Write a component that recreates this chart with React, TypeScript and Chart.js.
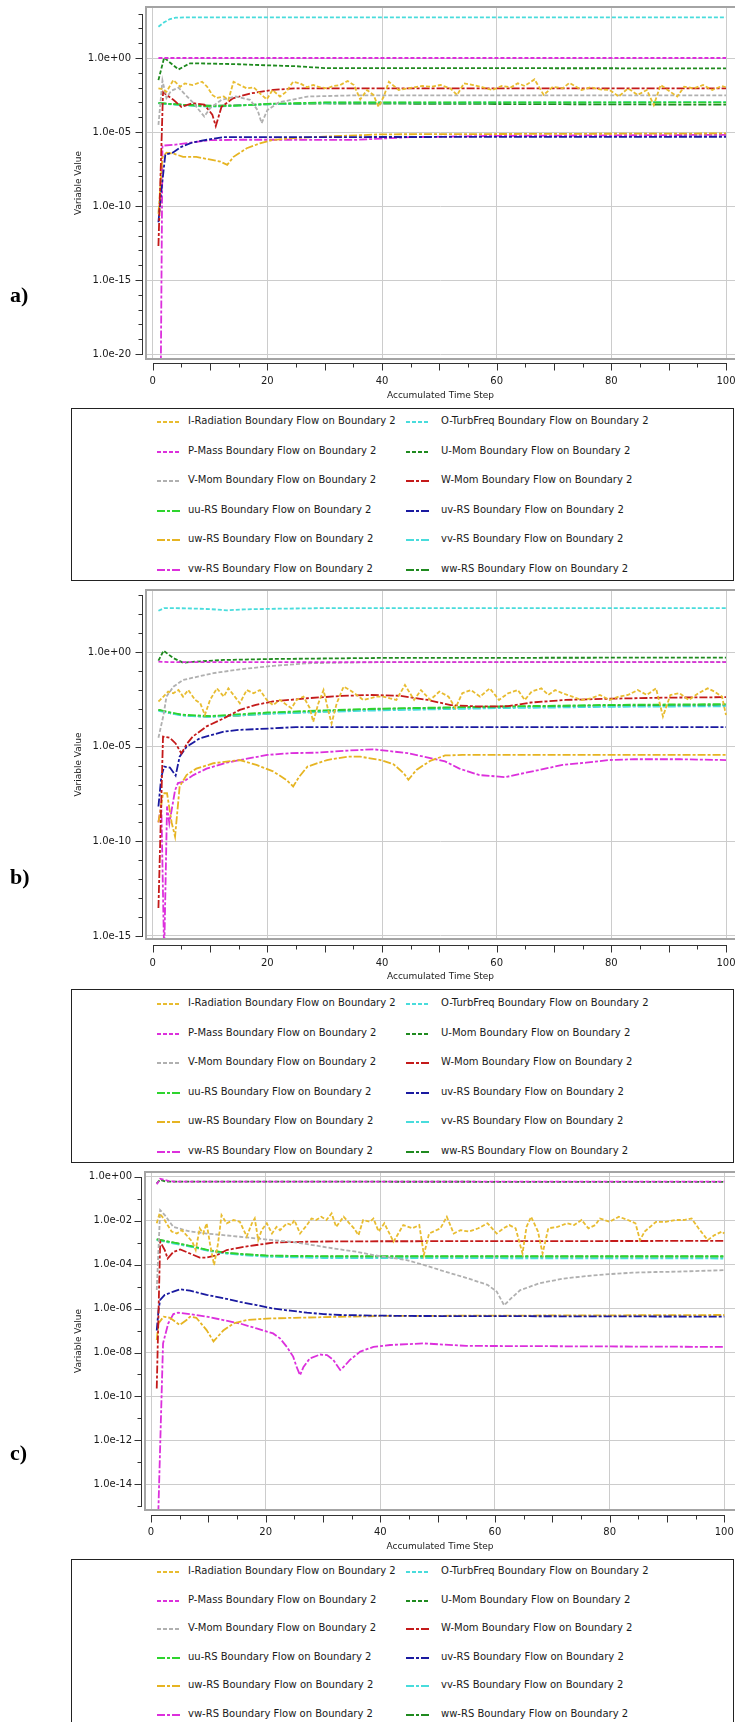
import React, { useEffect, useRef } from 'react';
import { Chart, registerables } from 'chart.js';
Chart.register(...registerables);

type Pt = [number, number];

const PAGE_W = 735;
const PAGE_H = 1722;

const SERIES_NAMES = ['I-Radiation', 'O-TurbFreq', 'P-Mass', 'U-Mom', 'V-Mom', 'W-Mom', 'uu-RS', 'uv-RS', 'uw-RS', 'vv-RS', 'vw-RS', 'ww-RS'];
const SERIES_COLORS = ['#e8bc30', '#48dcdc', '#dc30dc', '#1f8a1f', '#b0b0b0', '#c41a1a', '#2ed42e', '#1a1aa0', '#e6b422', '#48dcdc', '#dc30dc', '#1f8a1f'];
const SERIES_DASHDOT = [false, false, false, false, false, true, true, true, true, true, true, true];

const X_TICKS = [0, 20, 40, 60, 80, 100];
const A_Y_TICKS = [1e0, 1e-5, 1e-10, 1e-15, 1e-20];
const B_Y_TICKS = [1e0, 1e-5, 1e-10, 1e-15];
const C_Y_TICKS = [1e0, 1e-2, 1e-4, 1e-6, 1e-8, 1e-10, 1e-12, 1e-14];

// ---------------- Panel a ----------------
const A_IRAD: Pt[] = [[1, 8.9e-3], [1.7, 8e-3], [2.4, 5.2e-3], [3.6, 0.032], [4.8, 0.0115], [5.6, 0.019], [7, 0.015], [8.6, 0.025], [9.5, 0.0115], [10.4, 3.2e-3], [11.2, 2e-3], [12.4, 2.5e-3], [13.2, 1.45e-3], [14.1, 0.025], [15.2, 0.015], [16.4, 8.9e-3], [17.6, 0.0105], [19, 3.2e-3], [19.9, 1.6e-3], [20.9, 6.9e-3], [22.2, 2.5e-3], [23.3, 5.2e-3], [24.5, 0.025], [25.7, 0.0195], [26.9, 0.0105], [28, 0.015], [29.2, 0.0105], [30.4, 8.9e-3], [31.5, 0.0129], [32.7, 0.015], [34, 0.028], [35.1, 0.015], [36.2, 1.6e-3], [37.4, 6.9e-3], [38.5, 3.2e-3], [39.4, 5e-4], [40.3, 2.5e-3], [41.2, 0.025], [42.9, 6.9e-3], [44.5, 8.9e-3], [47, 0.0129], [48.6, 0.0115], [50.2, 0.015], [51.9, 8.9e-3], [53.1, 3.2e-3], [54.3, 0.0195], [55.9, 0.015], [57.6, 0.0105], [59.2, 6.9e-3], [60.9, 0.0129], [62.5, 0.0105], [63.7, 0.0195], [64.9, 0.0129], [66.6, 0.036], [68.2, 3.2e-3], [69.8, 0.0115], [71.5, 8.9e-3], [72.7, 0.021], [74.8, 6.9e-3], [76.4, 0.0105], [78, 7.6e-3], [79.7, 6.9e-3], [81.3, 2.5e-3], [82.9, 8.9e-3], [84.6, 3.2e-3], [86.2, 6.9e-3], [87.4, 6.6e-4], [88.6, 0.015], [90.3, 5.2e-3], [91.5, 2.5e-3], [92.7, 0.0115], [94.4, 8.9e-3], [96, 0.015], [97.6, 6.9e-3], [99.3, 0.0129], [100, 0.0105]];
const A_OTURB: Pt[] = [[1, 130], [2, 260], [3, 430], [4, 530], [6, 560], [100, 560]];
const A_PMASS: Pt[] = [[1, 1.0], [100, 1.0]];
const A_UMOM: Pt[] = [[1, 0.032], [2, 1.07], [3, 0.5], [4.5, 0.17], [6.5, 0.44], [10, 0.42], [15, 0.38], [20, 0.32], [25, 0.28], [30, 0.21], [100, 0.2]];
const A_VMOM: Pt[] = [[1, 3e-5], [1.7, 3e-2], [2.4, 2e-3], [3.2, 6e-3], [4.5, 1e-2], [7, 1e-3], [9, 1.1e-4], [10, 4e-4], [12, 1.5e-3], [14.5, 2.5e-3], [17, 1.5e-3], [18.3, 3e-4], [19, 4e-5], [20, 3e-4], [22, 1e-3], [27, 2.5e-3], [35, 3e-3], [100, 3e-3]];
const A_WMOM: Pt[] = [[1, 2e-13], [1.8, 5e-3], [2.5, 3e-3], [3.6, 1.5e-3], [5, 5e-4], [7, 9e-4], [9, 7e-4], [10.4, 1.5e-4], [11, 2.5e-5], [12, 5e-4], [14, 1.9e-3], [17, 4e-3], [21, 7e-3], [25, 9e-3], [100, 9e-3]];
const A_UU: Pt[] = [[1, 9e-4], [5, 7e-4], [10, 5.5e-4], [15, 6e-4], [20, 8e-4], [30, 1e-3], [100, 1e-3]];
const A_UV: Pt[] = [[1, 8e-12], [1.5, 1e-9], [2.2, 3e-7], [3.5, 4e-7], [5, 1e-6], [7, 2e-6], [9.5, 3e-6], [12.4, 4.5e-6], [100, 4.8e-6]];
const A_UW: Pt[] = [[1, 3e-11], [1.7, 2e-7], [2.4, 4e-7], [3.6, 3.5e-7], [5.3, 2.1e-7], [7.6, 2.1e-7], [9.9, 1.4e-7], [11.8, 1e-7], [13, 6e-8], [14.1, 2.1e-7], [16.4, 8e-7], [18.7, 1.7e-6], [21, 2.9e-6], [24, 3.8e-6], [30, 4.9e-6], [40, 7e-6], [100, 8e-6]];
const A_VV: Pt[] = [[1, 8.5e-4], [5, 6.5e-4], [10, 5e-4], [20, 7.5e-4], [30, 9.5e-4], [100, 1.05e-3]];
const A_VW: Pt[] = [[1.4, 1e-22], [1.7, 1.2e-6], [4, 1.4e-6], [7, 2e-6], [10, 2.8e-6], [15, 3e-6], [25, 3e-6], [35, 2.9e-6], [45, 4.5e-6], [60, 5.5e-6], [100, 6.5e-6]];
const A_WW: Pt[] = [[1, 9e-4], [5, 7e-4], [10, 6e-4], [15, 6.5e-4], [20, 7.5e-4], [30, 8.5e-4], [100, 7e-4]];

// ---------------- Panel b ----------------
const B_IRAD: Pt[] = [[1, 2.5e-3], [1.3, 3e-3], [2.7, 8.3e-3], [3.6, 6.8e-3], [4.5, 0.01], [5.3, 4.5e-3], [6.2, 0.01], [7.4, 3e-3], [8.3, 2e-3], [9.1, 4.8e-4], [10, 3e-3], [11.2, 0.0123], [12.4, 4.5e-3], [13.2, 0.0123], [14.1, 5.5e-3], [15.2, 2e-3], [16.4, 0.01], [17.6, 6.8e-3], [18.7, 0.01], [19.9, 3e-3], [21, 1.6e-3], [22.2, 3e-3], [23.4, 1.6e-3], [24.2, 1.1e-3], [25.1, 3e-3], [26.3, 4.5e-3], [27.4, 1.1e-3], [28, 2.1e-4], [28.9, 2e-3], [29.8, 0.01], [30.6, 8.9e-4], [31.2, 1.7e-4], [32.1, 2e-3], [33.3, 0.0151], [34.4, 0.01], [35.6, 5.5e-3], [36.7, 3e-3], [37.9, 3.6e-3], [39, 4.5e-3], [40.2, 4.5e-3], [41.4, 3.6e-3], [42.5, 3e-3], [44, 0.0186], [45.6, 3e-3], [46.8, 0.01], [48.4, 3e-3], [50, 8.3e-3], [51.6, 4.5e-3], [52.8, 1.1e-3], [54, 6.8e-3], [55.5, 0.01], [57.1, 4.5e-3], [58.8, 0.0123], [60.4, 3e-3], [62, 6.8e-3], [63.7, 0.01], [64.9, 3e-3], [66.1, 8.3e-3], [67.8, 0.0123], [69, 5.5e-3], [70.2, 0.01], [71.5, 6.8e-3], [73.2, 4.5e-3], [74.8, 3e-3], [76.4, 3.6e-3], [78, 5.5e-3], [79.7, 3e-3], [81.3, 4.5e-3], [82.9, 5.5e-3], [84.6, 0.01], [86.2, 5.5e-3], [87.8, 0.0123], [89, 4e-4], [90.3, 5.5e-3], [91.9, 6.8e-3], [93.5, 3e-3], [95.2, 6.8e-3], [96.8, 0.0123], [98, 8.3e-3], [99.3, 4.5e-3], [100, 4.8e-4]];
const B_OTURB: Pt[] = [[1, 155], [2, 215], [6, 210], [10, 190], [13, 165], [16, 185], [22, 200], [30, 215], [100, 215]];
const B_PMASS: Pt[] = [[1, 0.32], [3, 0.3], [100, 0.3]];
const B_UMOM: Pt[] = [[1, 0.36], [1.9, 1.2], [3.6, 0.49], [5.3, 0.28], [7, 0.31], [12.4, 0.39], [21, 0.44], [40, 0.5], [100, 0.52]];
const B_VMOM: Pt[] = [[1, 3e-5], [1.9, 5e-4], [2.4, 4.5e-3], [3.6, 1.5e-2], [5.3, 3.4e-2], [7.7, 5e-2], [10.6, 7.8e-2], [15.2, 0.125], [21, 0.19], [27, 0.26], [33, 0.28], [40, 0.3], [100, 0.31]];
const B_WMOM: Pt[] = [[1, 3e-14], [1.8, 3.5e-5], [3, 3e-5], [4, 1.5e-5], [5, 4.5e-6], [6, 1.5e-5], [7, 3.5e-5], [9.4, 1.2e-4], [12.4, 3.2e-4], [15.2, 9e-4], [18, 1.65e-3], [21, 2.5e-3], [27, 3.7e-3], [33, 4.9e-3], [38, 5.5e-3], [43, 5e-3], [48, 3e-3], [52, 1.6e-3], [57, 1.35e-3], [62, 1.4e-3], [66, 2.2e-3], [72, 3e-3], [80, 3.5e-3], [90, 4e-3], [100, 4.2e-3]];
const B_UU: Pt[] = [[1, 9e-4], [5, 5e-4], [10, 4.2e-4], [20, 6.5e-4], [30, 8.5e-4], [40, 1.05e-3], [60, 1.35e-3], [80, 1.65e-3], [100, 1.8e-3]];
const B_UV: Pt[] = [[1, 7e-9], [1.5, 2.6e-7], [2, 9e-7], [3, 8e-7], [4, 3e-7], [4.7, 3e-6], [5.9, 1e-5], [8.2, 2.8e-5], [12.4, 6.3e-5], [15, 7.8e-5], [21, 9.5e-5], [25, 1.1e-4], [100, 1.1e-4]];
const B_UW: Pt[] = [[1, 1e-9], [1.8, 3.5e-8], [2.5, 3.5e-8], [3.3, 1e-9], [3.9, 1.8e-10], [4.7, 8e-8], [5.9, 3.2e-7], [7.6, 7e-7], [10.6, 1.35e-6], [15.2, 2e-6], [18.1, 1.1e-6], [21, 5e-7], [23.3, 1.8e-7], [24.5, 8e-8], [25.5, 2.5e-7], [27, 9e-7], [30.4, 2e-6], [34, 3e-6], [36.2, 3e-6], [39.7, 2e-6], [42, 1.2e-6], [43.8, 4e-7], [44.6, 1.8e-7], [46, 6e-7], [48.4, 1.8e-6], [51, 3.5e-6], [54, 3.7e-6], [100, 3.7e-6]];
const B_VV: Pt[] = [[1, 8e-4], [5, 4.5e-4], [10, 3.8e-4], [20, 5.5e-4], [30, 7e-4], [40, 8.5e-4], [60, 1.1e-3], [80, 1.3e-3], [100, 1.4e-3]];
const B_VW: Pt[] = [[1, 1e-9], [1.5, 1e-8], [2, 1e-16], [2.5, 7e-9], [2.9, 9e-10], [3.9, 5e-8], [4.4, 1.2e-7], [5.3, 1.4e-7], [7.1, 3.2e-7], [9.4, 7e-7], [12.9, 1.45e-6], [15.2, 2e-6], [20, 3.7e-6], [24, 4.6e-6], [28.6, 4.9e-6], [34, 6.3e-6], [38.5, 7.4e-6], [44.5, 4.6e-6], [51, 1.7e-6], [53.5, 7e-7], [57, 3.2e-7], [61.5, 2.5e-7], [67.4, 6e-7], [71.5, 1.1e-6], [75.6, 1.45e-6], [79.7, 2e-6], [84, 2.2e-6], [92, 2.2e-6], [100, 2e-6]];
const B_WW: Pt[] = [[1, 9e-4], [3, 6e-4], [6.5, 4.3e-4], [9.4, 4e-4], [15, 4.5e-4], [21, 5.9e-4], [30, 7.5e-4], [40, 1e-3], [60, 1.25e-3], [80, 1.5e-3], [100, 1.6e-3]];

// ---------------- Panel c ----------------
const C_IRAD: Pt[] = [[1, 7.6e-3], [1.5, 0.0214], [2.2, 0.0126], [2.7, 7.6e-3], [3.6, 3.2e-3], [4.5, 2.6e-3], [5.4, 3.7e-3], [6.4, 1.9e-3], [7.2, 1.1e-3], [7.8, 4.6e-4], [8.5, 4.5e-3], [9.1, 2.6e-3], [9.7, 7.6e-3], [10.3, 8.7e-4], [11, 9.5e-5], [11.7, 9.3e-4], [12.3, 0.0178], [13.2, 7.6e-3], [14.4, 0.0107], [15.5, 8.9e-3], [16.7, 1.9e-3], [17.6, 7.6e-3], [18.1, 0.0126], [18.7, 1.3e-3], [19.3, 3.7e-3], [20.2, 7.6e-3], [21.1, 2.6e-3], [21.9, 5.2e-3], [22.5, 3.7e-3], [23.7, 7.6e-3], [24.5, 6.3e-3], [25, 0.0107], [26, 2.6e-3], [27.2, 6.3e-3], [28, 0.0126], [28.8, 0.0107], [29.7, 0.0151], [30.6, 0.0107], [31.5, 0.0214], [32.3, 5.2e-3], [33.6, 0.0151], [34.6, 7.6e-3], [35.4, 4.5e-3], [36.2, 2.2e-3], [37, 0.0107], [38.2, 8.9e-3], [38.8, 0.0126], [39.7, 3.2e-3], [40.7, 7.6e-3], [42.3, 1.1e-3], [44, 6.3e-3], [45.6, 4.5e-3], [46.8, 6.3e-3], [47.6, 2.8e-4], [48.5, 2.6e-3], [50.5, 4.5e-3], [51.6, 0.0151], [52.8, 2.6e-3], [54, 3.7e-3], [55.4, 3.2e-3], [57.1, 4.5e-3], [58.7, 7.6e-3], [60.3, 2.6e-3], [61.5, 4.5e-3], [62.5, 6.3e-3], [63.6, 4.5e-3], [64.8, 3.2e-4], [65.5, 5.2e-3], [66.3, 0.0151], [67.5, 3.2e-3], [68.3, 3.2e-4], [69.3, 4.5e-3], [70.9, 5.2e-3], [72.6, 7.6e-3], [73.8, 6.3e-3], [75.1, 0.0107], [76.3, 4.5e-3], [77.5, 6.3e-3], [78.3, 0.0126], [80, 8.9e-3], [81.6, 0.0151], [83.2, 0.0107], [84.5, 7.6e-3], [85.3, 1.3e-3], [86.1, 3.2e-3], [88.1, 8.9e-3], [89.8, 8.9e-3], [91.4, 0.0107], [93, 0.0107], [94.3, 0.0126], [95.5, 4.5e-3], [97.1, 1.3e-3], [98.3, 2.2e-3], [99.6, 3.2e-3], [100, 2.6e-3]];
const C_OTURB: Pt[] = [[1, 150], [100, 250]];
const C_PMASS: Pt[] = [[1, 0.45], [1.6, 0.8], [3, 0.65], [4, 0.6], [100, 0.6]];
const C_UMOM: Pt[] = [[1, 0.5], [1.6, 0.72], [2.6, 0.6], [100, 0.58]];
const C_VMOM: Pt[] = [[1, 7e-6], [1.6, 3e-2], [2.4, 1.8e-2], [3.9, 5.2e-3], [6.8, 3.2e-3], [9.7, 2.6e-3], [12.6, 2.2e-3], [15.5, 1.85e-3], [18.4, 1.55e-3], [21.3, 1.3e-3], [24.3, 1.1e-3], [27, 8.7e-4], [30, 6.5e-4], [33, 4.9e-4], [36, 3.8e-4], [38.8, 2.7e-4], [41.7, 2.1e-4], [44.6, 1.6e-4], [47.4, 1e-4], [51.3, 4.8e-5], [55.4, 2.3e-5], [58.7, 1.2e-5], [60.3, 5.9e-6], [61.6, 1.4e-6], [62.8, 2.9e-6], [64.4, 6.9e-6], [67.7, 1.4e-5], [71.8, 2.3e-5], [75.9, 3e-5], [80, 3.7e-5], [84, 4.3e-5], [88, 4.6e-5], [92, 4.8e-5], [100, 5.6e-5]];
const C_WMOM: Pt[] = [[1, 2.3e-10], [1.6, 1.1e-3], [2.4, 4.6e-4], [2.9, 1.9e-4], [3.9, 3.8e-4], [5.1, 4.9e-4], [6.8, 3.2e-4], [8.5, 2.1e-4], [9.7, 2.1e-4], [11.5, 2.7e-4], [13.2, 4.6e-4], [15.5, 6e-4], [18.4, 7.8e-4], [21.3, 1e-3], [27, 1.1e-3], [33, 1.15e-3], [100, 1.2e-3]];
const C_UU: Pt[] = [[1, 1.4e-3], [4, 1e-3], [7, 7e-4], [10, 4.6e-4], [13, 3.5e-4], [16, 3e-4], [20, 2.6e-4], [30, 2.4e-4], [100, 2.4e-4]];
const C_UV: Pt[] = [[1, 1e-7], [1.3, 8e-7], [1.6, 2.5e-6], [2.4, 4.2e-6], [3.9, 5.9e-6], [5.1, 7.6e-6], [6.8, 6.5e-6], [9.7, 4.2e-6], [12.6, 3e-6], [15.5, 2e-6], [18.4, 1.45e-6], [21.3, 1e-6], [24.3, 8e-7], [27.2, 6.5e-7], [30.1, 5.6e-7], [33, 5.1e-7], [38.8, 4.8e-7], [45, 4.6e-7], [100, 4.3e-7]];
const C_UW: Pt[] = [[1, 3.7e-8], [1.3, 2.1e-7], [2.2, 4.3e-7], [3.3, 3.8e-7], [5, 1.8e-7], [6.2, 3e-7], [6.8, 4.3e-7], [7.9, 3.8e-7], [9.7, 1.05e-7], [10.9, 3.2e-8], [12.6, 1e-7], [14.4, 2.1e-7], [16.7, 3e-7], [20.2, 3.5e-7], [25, 3.8e-7], [40, 4.6e-7], [100, 5.1e-7]];
const C_VV: Pt[] = [[1, 1.3e-3], [4, 9e-4], [7, 6.5e-4], [10, 4.2e-4], [13, 3.2e-4], [16, 2.7e-4], [20, 2.3e-4], [30, 2e-4], [100, 1.9e-4]];
const C_VW: Pt[] = [[1.2, 1e-16], [2.1, 2.6e-8], [3, 2.1e-7], [3.9, 5.6e-7], [4.7, 6.5e-7], [6.8, 5.6e-7], [9.7, 4.3e-7], [12.6, 3e-7], [15.5, 2.1e-7], [18.4, 1.25e-7], [21.3, 7.4e-8], [22.5, 4.4e-8], [23.7, 1.8e-8], [24.8, 6.5e-9], [25.4, 2.2e-9], [26, 9.3e-10], [26.6, 2.2e-9], [27.7, 5.4e-9], [29.5, 8.1e-9], [30.7, 7.6e-9], [31.8, 4.6e-9], [33, 1.6e-9], [33.6, 2.2e-9], [34.7, 4.6e-9], [36.5, 1.1e-8], [38.8, 1.8e-8], [41.7, 2.2e-8], [47.5, 2.6e-8], [55, 2e-8], [100, 1.8e-8]];
const C_WW: Pt[] = [[1, 1.4e-3], [3.9, 1e-3], [6.8, 7e-4], [9.7, 4.6e-4], [12.6, 3.5e-4], [15.5, 3e-4], [18.4, 2.7e-4], [21.3, 2.45e-4], [27, 2.3e-4], [100, 2.3e-4]];

interface PanelCfg {
  canvasTop: number;
  areaTop: number;
  areaBottom: number;
  left: number;
  labelRight: number;
  xZero: number;
  xHundred: number;
  axisGap: number;
  labelCenter: number;
  titleCenter: number;
  yMin: number;
  yMax: number;
  yTicks: number[];
  series: Pt[][];
}

const PANEL_A: PanelCfg = {
  canvasTop: 0, areaTop: 7, areaBottom: 359, left: 146, labelRight: 131,
  xZero: 152.7, xHundred: 726, axisGap: 4, labelCenter: 381, titleCenter: 396,
  yMin: 4.6e-21, yMax: 2.8e3, yTicks: A_Y_TICKS,
  series: [A_IRAD, A_OTURB, A_PMASS, A_UMOM, A_VMOM, A_WMOM, A_UU, A_UV, A_UW, A_VV, A_VW, A_WW],
};
const PANEL_B: PanelCfg = {
  canvasTop: 585, areaTop: 590, areaBottom: 939, left: 146, labelRight: 131,
  xZero: 152.7, xHundred: 726, axisGap: 6, labelCenter: 963, titleCenter: 977,
  yMin: 6.9e-16, yMax: 1.95e3, yTicks: B_Y_TICKS,
  series: [B_IRAD, B_OTURB, B_PMASS, B_UMOM, B_VMOM, B_WMOM, B_UU, B_UV, B_UW, B_VV, B_VW, B_WW],
};
const PANEL_C: PanelCfg = {
  canvasTop: 1165, areaTop: 1172, areaBottom: 1510, left: 145, labelRight: 132,
  xZero: 151, xHundred: 724.3, axisGap: 5, labelCenter: 1532.5, titleCenter: 1547,
  yMin: 6.8e-16, yMax: 1.64, yTicks: C_Y_TICKS,
  series: [C_IRAD, C_OTURB, C_PMASS, C_UMOM, C_VMOM, C_WMOM, C_UU, C_UV, C_UW, C_VV, C_VW, C_WW],
};

const FONT = 'DejaVu Sans';
const DASH = [4, 2];
const DASHDOT = [8, 2, 3, 2];

function fmtExp(v: number): string {
  const e = Math.round(Math.log10(v));
  return '1.0e' + (e >= 0 ? '+' : '-') + String(Math.abs(e)).padStart(2, '0');
}

function Panel({ cfg }: { cfg: PanelCfg }) {
  const ref = useRef<HTMLCanvasElement>(null);
  const H = Math.round(cfg.titleCenter + 8 - cfg.canvasTop);
  useEffect(() => {
    const ppu = (cfg.xHundred - cfg.xZero) / 100;
    const xMin = -(cfg.xZero - cfg.left) / ppu;
    const xMax = 100 + (PAGE_W - cfg.xHundred) / ppu;
    const datasets = SERIES_NAMES.map((n, i) => ({
      label: n + ' Boundary Flow on Boundary 2',
      data: cfg.series[i].map(([x, y]) => ({ x, y })),
      borderColor: SERIES_COLORS[i],
      backgroundColor: SERIES_COLORS[i],
      borderWidth: 1.8,
      borderDash: SERIES_DASHDOT[i] ? DASHDOT : DASH,
      pointRadius: 0,
      fill: false,
      tension: 0,
    }));
    const decor = {
      id: 'decor',
      afterDraw(chart: any) {
        const { ctx, chartArea: ca, scales } = chart;
        const ys = scales.y;
        const xs = scales.x;
        ctx.save();
        ctx.strokeStyle = '#a4a4a4';
        ctx.lineWidth = 2;
        ctx.strokeRect(ca.left, ca.top, ca.right - ca.left + 2, ca.bottom - ca.top);
        ctx.strokeStyle = '#333';
        ctx.lineWidth = 1;
        const ax = ca.left - 3.5;
        const kTop = Math.floor(Math.log10(cfg.yMax));
        const kBot = Math.ceil(Math.log10(cfg.yMin));
        ctx.beginPath();
        ctx.moveTo(ax, Math.round(ys.getPixelForValue(Math.pow(10, kTop))));
        ctx.lineTo(ax, Math.round(ys.getPixelForValue(Math.pow(10, kBot))) + 1);
        for (let k = kBot; k <= kTop; k++) {
          const v = Math.pow(10, k);
          const py = Math.round(ys.getPixelForValue(v)) + 0.5;
          const major = cfg.yTicks.some((t) => Math.abs(Math.log10(t) - k) < 1e-6);
          ctx.moveTo(ax, py);
          ctx.lineTo(ax - (major ? 7 : 4), py);
        }
        const ay = Math.round(ca.bottom + cfg.axisGap) + 0.5;
        ctx.moveTo(Math.round(xs.getPixelForValue(0)), ay);
        ctx.lineTo(Math.round(xs.getPixelForValue(100)) + 1, ay);
        for (let v = 0; v <= 100; v += 5) {
          const px = Math.round(xs.getPixelForValue(v)) + 0.5;
          ctx.moveTo(px, ay);
          ctx.lineTo(px, ay + (v % 10 === 0 ? 7 : 4));
        }
        ctx.stroke();
        ctx.restore();
      },
    };
    const chart = new Chart(ref.current as HTMLCanvasElement, {
      type: 'line',
      data: { datasets } as any,
      options: {
        animation: false,
        responsive: false,
        devicePixelRatio: 1,
        events: [],
        layout: { autoPadding: false, padding: { top: cfg.areaTop - cfg.canvasTop, left: 0, right: 0, bottom: 0 } },
        plugins: { legend: { display: false }, tooltip: { enabled: false } },
        scales: {
          x: {
            type: 'linear',
            min: xMin,
            max: xMax,
            afterBuildTicks: (s: any) => { s.ticks = X_TICKS.map((v) => ({ value: v })); },
            afterFit: (s: any) => { s.height = H - (cfg.areaBottom - cfg.canvasTop); s.paddingLeft = 0; s.paddingRight = 0; },
            grid: { color: '#cccccc', lineWidth: 1, drawTicks: false },
            border: { display: false },
            ticks: {
              padding: cfg.labelCenter - cfg.areaBottom - 6,
              color: '#1a1a1a',
              font: { family: FONT, size: 10 },
              maxRotation: 0,
              autoSkip: false,
              callback: (v: any) => String(v),
            },
            title: { display: true, text: 'Accumulated Time Step', color: '#1a1a1a', font: { family: FONT, size: 9 }, padding: { top: 0, bottom: 2.6 } },
          },
          y: {
            type: 'logarithmic',
            min: cfg.yMin,
            max: cfg.yMax,
            afterBuildTicks: (s: any) => { s.ticks = cfg.yTicks.map((v) => ({ value: v })); },
            afterFit: (s: any) => { s.width = cfg.left; s.paddingTop = 0; s.paddingBottom = 0; },
            grid: { color: '#cccccc', lineWidth: 1, drawTicks: false },
            border: { display: false },
            ticks: {
              padding: cfg.left - cfg.labelRight,
              color: '#1a1a1a',
              font: { family: FONT, size: 10 },
              autoSkip: false,
              callback: (v: any) => fmtExp(Number(v)),
            },
            title: { display: true, text: 'Variable Value', color: '#1a1a1a', font: { family: FONT, size: 9 }, padding: { top: 79 - 5.4, bottom: 0 } },
          },
        },
      } as any,
      plugins: [decor],
    });
    return () => chart.destroy();
  }, []);
  return (
    <canvas
      ref={ref}
      width={PAGE_W}
      height={H}
      style={{ position: 'absolute', left: 0, top: cfg.canvasTop, width: PAGE_W, height: H }}
    />
  );
}

function LegendBox({ top, height, firstRow, rowGap }: { top: number; height: number; firstRow: number; rowGap: number }) {
  const items = SERIES_NAMES.map((n, i) => {
    const col = i % 2;
    const row = Math.floor(i / 2);
    const cy = firstRow + row * rowGap;
    const lx = col === 0 ? 157 : 406;
    const tx = col === 0 ? 188 : 441;
    return (
      <React.Fragment key={n}>
        <svg style={{ position: 'absolute', left: lx, top: cy - 3, width: 26, height: 6 }} width={26} height={6}>
          <line x1={0} y1={3} x2={24} y2={3} stroke={SERIES_COLORS[i]} strokeWidth={2}
            strokeDasharray={(SERIES_DASHDOT[i] ? DASHDOT : DASH).join(' ')} />
        </svg>
        <span style={{ position: 'absolute', left: tx, top: cy - 7, height: 14, lineHeight: '14px', font: `10px "${FONT}"`, color: '#1a1a1a', whiteSpace: 'nowrap' }}>
          {n + ' Boundary Flow on Boundary 2'}
        </span>
      </React.Fragment>
    );
  });
  return (
    <>
      <div style={{ position: 'absolute', left: 71, top, width: PAGE_W - 71 - 1, height, border: '1px solid #222', boxSizing: 'border-box', background: '#fff' }} />
      {items}
    </>
  );
}

function PanelLabel({ text, cy }: { text: string; cy: number }) {
  return (
    <div style={{ position: 'absolute', left: 10, top: cy - 13, height: 26, lineHeight: '26px', font: 'bold 22px "Liberation Serif"', color: '#000' }}>
      {text}
    </div>
  );
}

export default function App() {
  return (
    <div style={{ position: 'absolute', left: 0, top: 0, width: PAGE_W, height: PAGE_H, overflow: 'hidden', background: '#fff' }}>
      <Panel cfg={PANEL_A} />
      <LegendBox top={408} height={173} firstRow={422} rowGap={29.6} />
      <PanelLabel text="a)" cy={295} />
      <Panel cfg={PANEL_B} />
      <LegendBox top={989} height={174} firstRow={1004} rowGap={29.6} />
      <PanelLabel text="b)" cy={877} />
      <Panel cfg={PANEL_C} />
      <LegendBox top={1559} height={175} firstRow={1572} rowGap={28.5} />
      <PanelLabel text="c)" cy={1453} />
    </div>
  );
}
